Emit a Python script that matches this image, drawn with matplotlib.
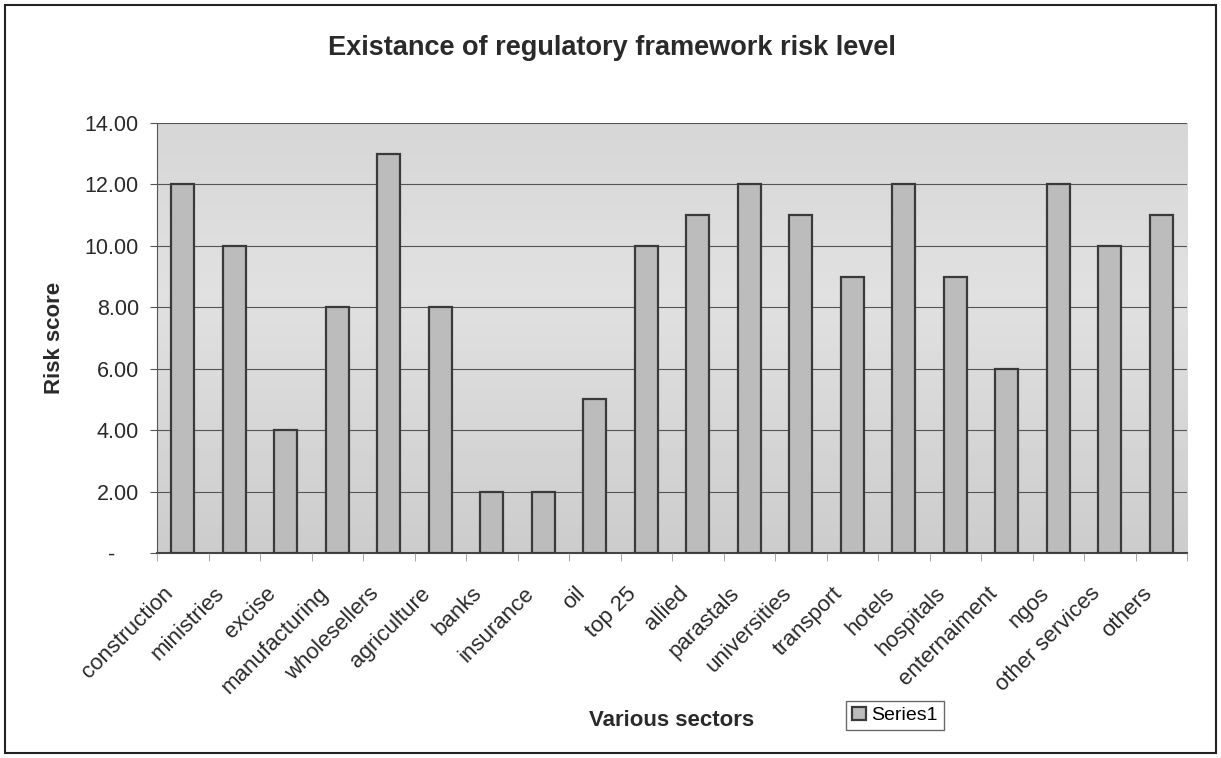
import matplotlib
matplotlib.use("Agg")
import matplotlib.pyplot as plt
import matplotlib.transforms as mtransforms
import numpy as np
from matplotlib.patches import Rectangle

sectors = [
    "construction", "ministries", "excise", "manufacturing", "wholesellers",
    "agriculture", "banks", "insurance", "oil", "top 25", "allied", "parastals",
    "universities", "transport", "hotels", "hospitals", "enternaiment", "ngos",
    "other services", "others",
]
risk_scores = [12, 10, 4, 8, 13, 8, 2, 2, 5, 10, 11, 12, 11, 9, 12, 9, 6, 12, 10, 11]
y_ticks = [0, 2, 4, 6, 8, 10, 12, 14]
y_tick_labels = ["-    ", "2.00", "4.00", "6.00", "8.00", "10.00", "12.00", "14.00"]

plt.rcParams["font.family"] = ["Liberation Sans", "DejaVu Sans"]
TEXT = "#2a2a2a"

fig = plt.figure(figsize=(12.21, 7.58), dpi=100)
fig.patch.set_facecolor("white")
fig.add_artist(Rectangle((0.004, 0.007), 0.992, 0.986, transform=fig.transFigure,
                         fill=False, edgecolor="#222222", linewidth=1.5))

ax = fig.add_axes([0.1286, 0.2704, 0.8436, 0.5673])

# soft grey gradient behind the bars
grad = np.concatenate([np.linspace(0.80, 0.88, 60), np.linspace(0.88, 0.84, 40)])
ax.imshow(grad[::-1].reshape(-1, 1), cmap="gray", vmin=0, vmax=1, aspect="auto",
          extent=[-0.5, len(sectors) - 0.5, 0, 14], zorder=0, interpolation="bicubic")

x = np.arange(len(sectors))
ax.bar(x, risk_scores, width=0.45, color="#bcbcbc", edgecolor="#3a3a3a",
       linewidth=1.6, zorder=3, label="Series1")

ax.set_xlim(-0.5, len(sectors) - 0.5)
ax.set_ylim(0, 14)
ax.set_yticks(y_ticks)
ax.set_yticklabels(y_tick_labels, fontsize=15.5, color=TEXT)
ax.yaxis.grid(True, color="#555555", linewidth=0.8, zorder=1)
ax.set_axisbelow(False)

# category labels sit a little left of and below each slot centre
ax.set_xticks(x)
ax.set_xticklabels([])
label_tf = ax.get_xaxis_transform() + mtransforms.ScaledTranslation(-0.20, -0.30, fig.dpi_scale_trans)
for xi, name in zip(x, sectors):
    ax.text(xi, 0, name, transform=label_tf, rotation=45, rotation_mode="anchor",
            ha="right", va="top", fontsize=16, color=TEXT, clip_on=False)
ax.set_xticks(np.arange(len(sectors) + 1) - 0.5, minor=True)
ax.tick_params(axis="x", which="major", length=0)
ax.tick_params(axis="x", which="minor", length=6, color="#999999")
ax.tick_params(axis="y", length=5, color="#555555", pad=8)

for side in ["top", "right"]:
    ax.spines[side].set_visible(False)
ax.spines["left"].set_color("#555555")
ax.spines["bottom"].set_color("#444444")
ax.spines["bottom"].set_linewidth(1.5)

ax.set_ylabel("Risk score", fontsize=16, fontweight="bold", color=TEXT, labelpad=14)
fig.text(0.55, 0.050, "Various sectors", fontsize=16, fontweight="bold",
         ha="center", va="center", color=TEXT)
fig.text(0.501, 0.937, "Existance of regulatory framework risk level", fontsize=19.5,
         fontweight="bold", ha="center", va="center", color=TEXT)

leg = fig.legend(loc="center", bbox_to_anchor=(0.733, 0.056), fontsize=14,
                 frameon=True, fancybox=False, handlelength=0.7, handleheight=0.7,
                 handletextpad=0.3, borderpad=0.3)
leg.get_frame().set_edgecolor("#444444")
leg.get_frame().set_linewidth(1.0)

fig.savefig("out.png", dpi=100)
plt.close(fig)
